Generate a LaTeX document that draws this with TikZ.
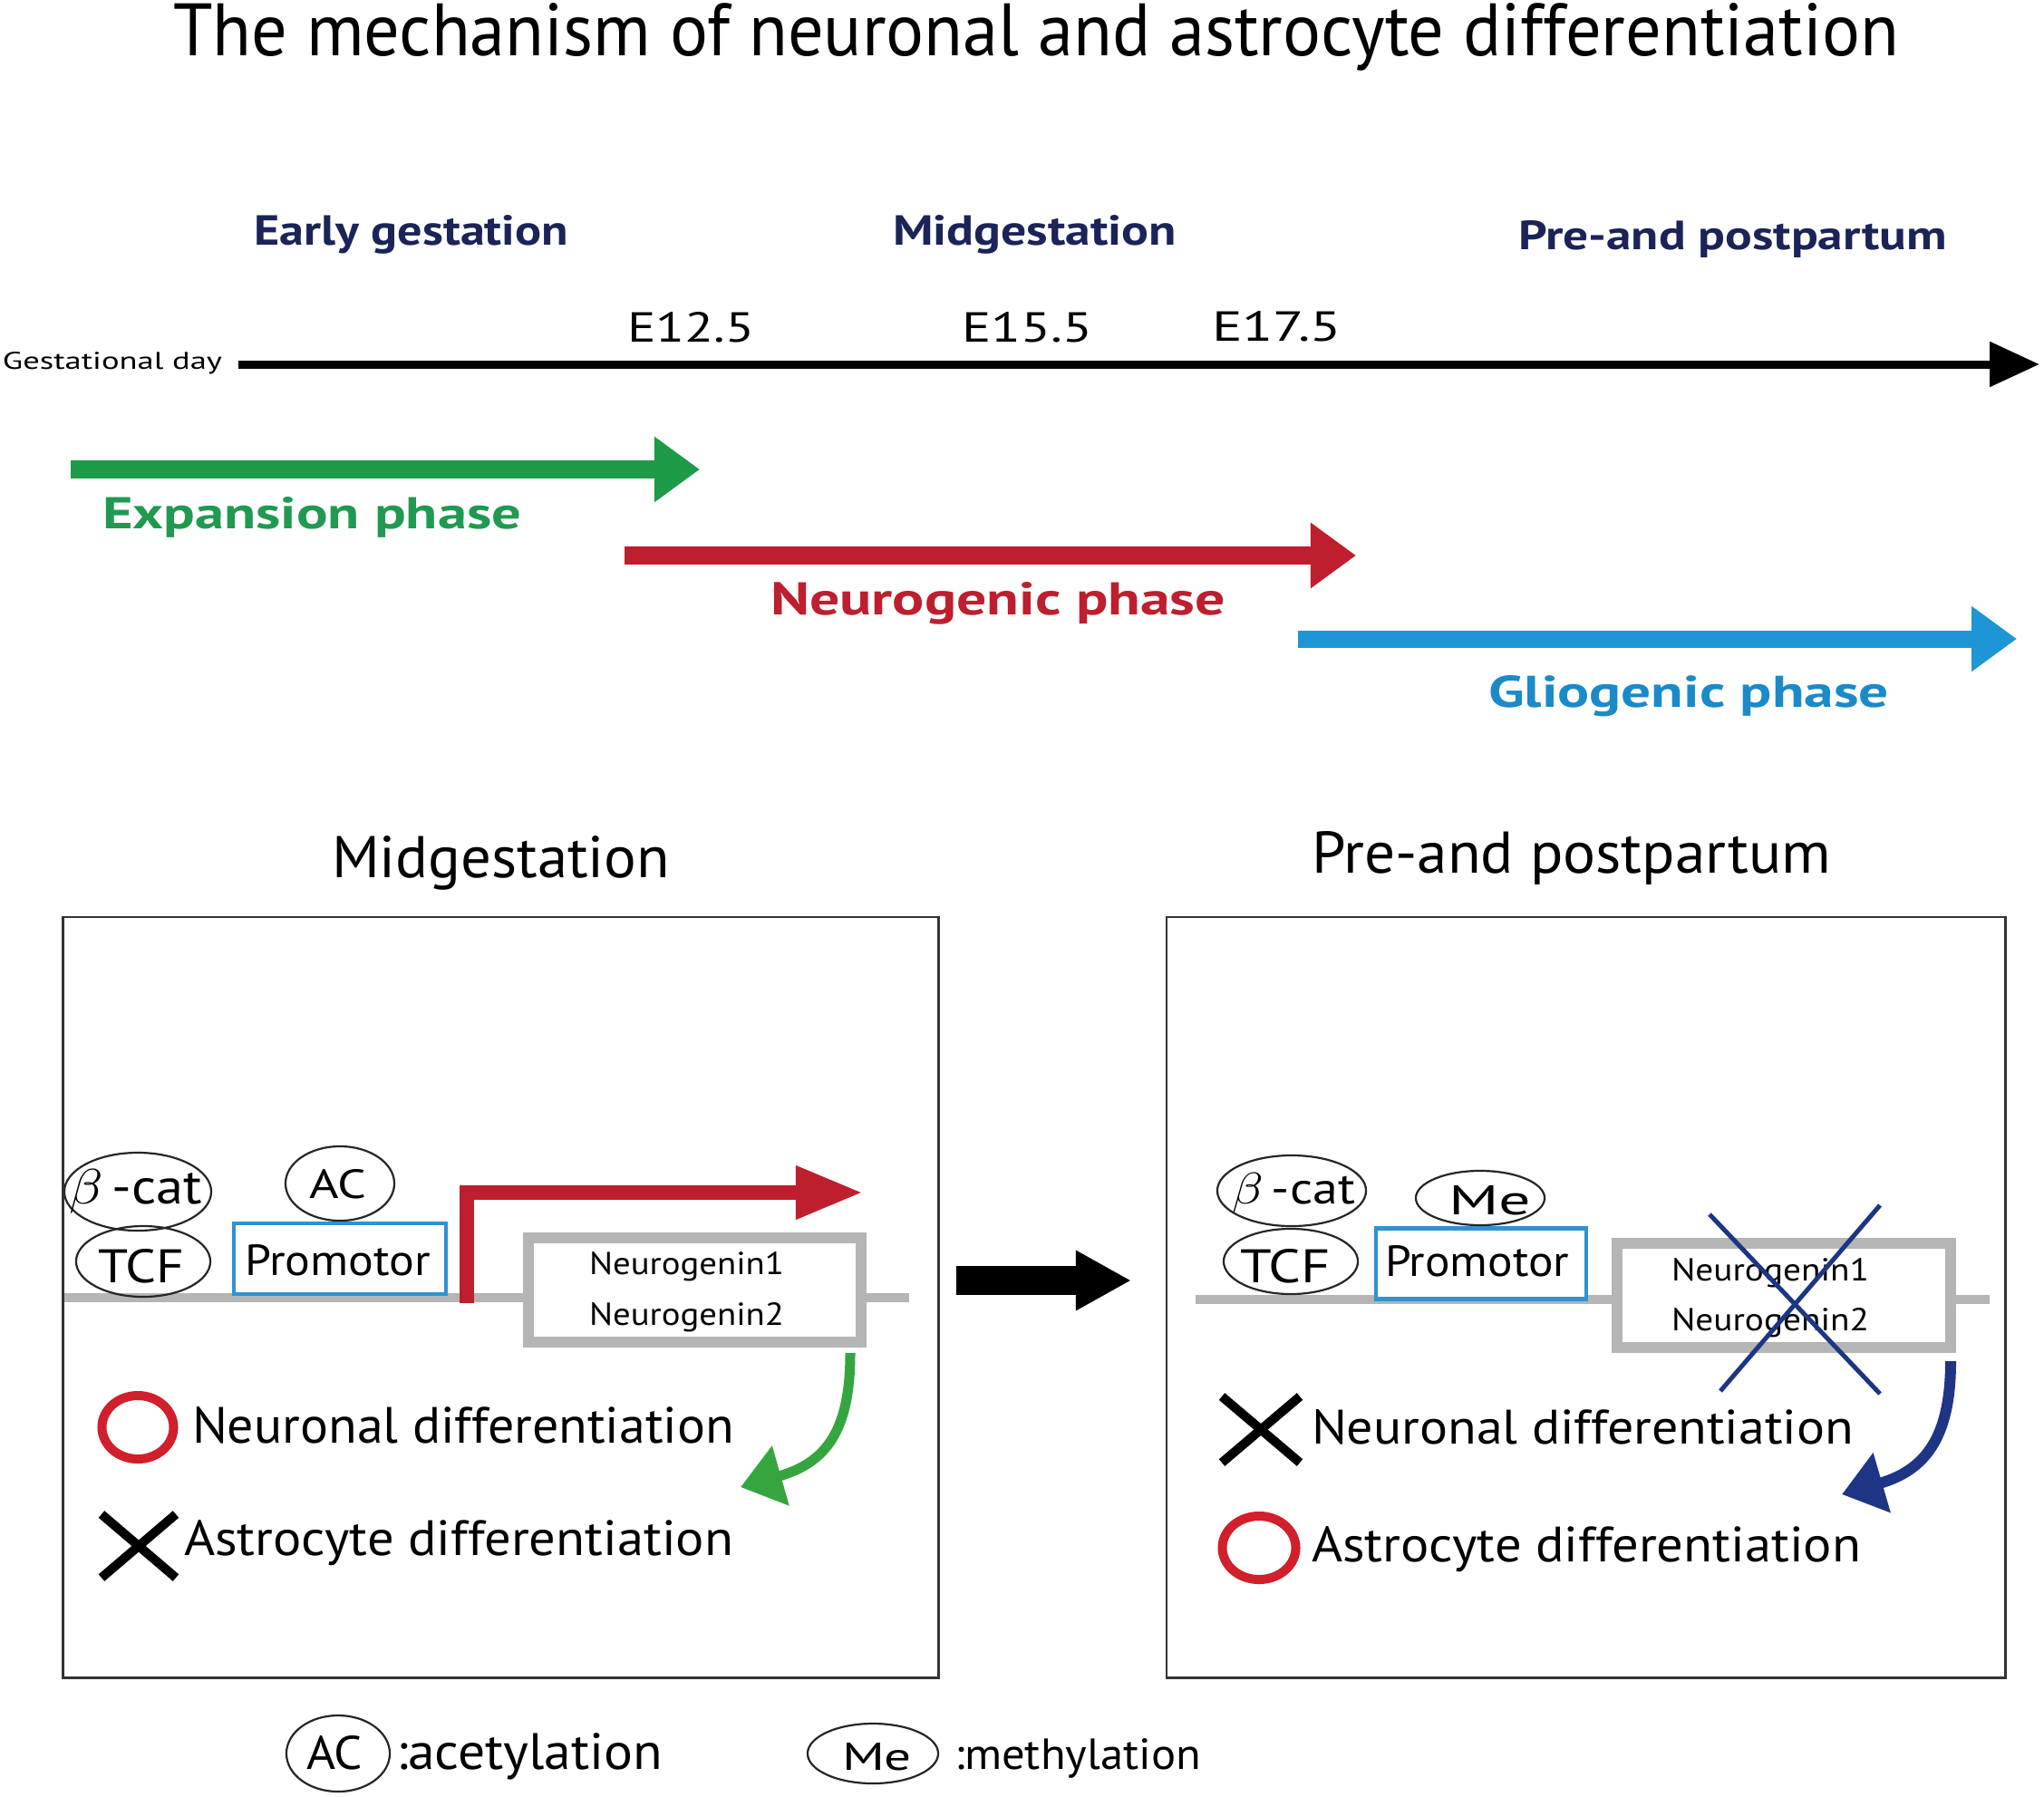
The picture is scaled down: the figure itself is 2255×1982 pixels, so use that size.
\documentclass[tikz,border=0pt]{standalone}
\usepackage{fontspec}
\setmainfont{PT Sans}
\usepackage{graphicx}
\usetikzlibrary{arrows.meta,shapes.geometric}
\newlength\pxu \setlength\pxu{0.01cm}
\newcommand\fitt[3]{\resizebox{#1\pxu}{#2\pxu}{#3}}
\definecolor{navyt}{HTML}{1B2358}
\definecolor{greenA}{HTML}{1E9B48}
\definecolor{greenT}{HTML}{1F9A50}
\definecolor{redA}{HTML}{BE1E2D}
\definecolor{blueA}{HTML}{1E96D6}
\definecolor{blueT}{HTML}{1A8AC8}
\definecolor{dnag}{HTML}{B5B5B5}
\definecolor{promb}{HTML}{2D93D2}
\definecolor{redO}{HTML}{D11F2B}
\definecolor{greenC}{HTML}{35A63F}
\definecolor{navyC}{HTML}{1E3585}
\begin{document}
\begin{tikzpicture}[x=0.01cm,y=-0.01cm,
  txt/.style={anchor=base west,inner sep=0pt,outer sep=0pt},
  ell/.style={draw=black!85,ellipse,line width=0.022cm,inner sep=0pt},
  panel/.style={draw=black!80,line width=0.025cm,inner sep=0pt},
  promo/.style={draw=promb,line width=0.045cm,fill=white,inner sep=0pt,minimum height=0.78cm},
  gene/.style={draw=dnag,line width=0.12cm,fill=white,inner sep=0pt,minimum width=3.67cm,minimum height=1.15cm},
  dna/.style={dnag,line width=0.10cm},
  yes/.style={draw=redO,line width=0.10cm},
  no/.style={line width=0.10cm,black}
]
\useasboundingbox (0,0) rectangle (2255,1982);
\fill[white] (0,0) rectangle (2255,1982);

% ---------- title ----------
\node[txt] (title) at (191,62) {\fitt{1904}{58}{The mechanism of neuronal and astrocyte differentiation}};

% ---------- period headings ----------
\node[txt,text=navyt] (hEarly) at (280,271) {\fitt{347}{33}{\bfseries Early gestation}};
\node[txt,text=navyt] (hMid) at (985,271) {\fitt{313}{33}{\bfseries Midgestation}};
\node[txt,text=navyt] (hPre) at (1675,275) {\fitt{473}{32}{\bfseries Pre-and postpartum}};

% ---------- timeline ----------
\node[txt] (gday) at (3,407) {\fitt{242}{19}{Gestational day}};
\node[txt] (e125) at (692,377) {\fitt{140}{33}{E12.5}};
\node[txt] (e155) at (1061,377) {\fitt{144}{33}{E15.5}};
\node[txt] (e175) at (1337,376) {\fitt{143}{33}{E17.5}};
\coordinate (tlA) at (263,402);
\coordinate (tlB) at (2250,402);
\draw[line width=0.09cm,-{Triangle[length=0.55cm,width=0.48cm]}] (tlA) -- (tlB);

% ---------- phases ----------
\coordinate (exA) at (78,518);   \coordinate (exB) at (772,518);
\coordinate (neA) at (689,613);  \coordinate (neB) at (1496,613);
\coordinate (glA) at (1432,705); \coordinate (glB) at (2225,705);
\draw[greenA,line width=0.20cm,-{Triangle[length=0.50cm,width=0.69cm]}] (exA) -- (exB);
\draw[redA,line width=0.20cm,-{Triangle[length=0.50cm,width=0.69cm]}] (neA) -- (neB);
\draw[blueA,line width=0.19cm,-{Triangle[length=0.50cm,width=0.69cm]}] (glA) -- (glB);
\node[txt,text=greenT] (lExp) at (113,583) {\fitt{462}{35}{\bfseries Expansion phase}};
\node[txt,text=redA] (lNeu) at (850,678) {\fitt{502}{36}{\bfseries Neurogenic phase}};
\node[txt,text=blueT] (lGli) at (1642,780) {\fitt{442}{35}{\bfseries Gliogenic phase}};

% ---------- panel headings ----------
\node[txt] (pMid) at (366,968) {\fitt{373}{46}{Midgestation}};
\node[txt] (pPre) at (1447,963) {\fitt{573}{46}{Pre-and postpartum}};

% ---------- panels ----------
\node[panel,minimum width=9.65cm,minimum height=8.39cm] (lp) at (552.5,1431.5) {};
\node[panel,minimum width=9.25cm,minimum height=8.39cm] (rp) at (1749.5,1431.5) {};

% ---------- left panel ----------
\coordinate (dnaLA) at (71,1432); \coordinate (dnaLB) at (1003,1432);
\draw[dna] (dnaLA) -- (dnaLB);
\node[promo,minimum width=2.34cm] (promL) at (375,1389) {};
\node[txt] (promLt) at (270,1407) {\fitt{205}{34}{Promotor}};
\coordinate (rbA) at (515,1438);
\coordinate (rbB) at (952,1316);
\draw[redA,line width=0.16cm,miter limit=10,-{Triangle[length=0.74cm,width=0.55cm]}] (rbA) |- (rbB);
\node[gene] (geneL) at (766.5,1423.5) {};
\node[txt] (ngL1) at (650,1406) {\fitt{215}{25}{Neurogenin1}};
\node[txt] (ngL2) at (650,1462) {\fitt{215}{25}{Neurogenin2}};
\node[ell,minimum width=1.62cm,minimum height=0.86cm] (bcatL) at (152,1315) {};
\node[ell,minimum width=1.48cm,minimum height=0.78cm] (tcfL) at (158,1392) {};
\node[ell,minimum width=1.20cm,minimum height=0.82cm] (acL) at (375,1306) {};
\node[txt] (bcatLt) at (76,1328) {\fitt{147}{38}{$\beta$\,-cat}};
\node[txt] (tcfLt) at (108,1415) {\fitt{95}{37}{TCF}};
\node[txt] (acLt) at (341,1322) {\fitt{63}{32}{AC}};
\node[ellipse,yes,minimum width=0.79cm,minimum height=0.70cm,inner sep=0pt] (okL) at (152,1575) {};
\node[txt] (neuL) at (212,1592) {\fitt{598}{40}{Neuronal differentiation}};
\coordinate (xL1) at (112,1671); \coordinate (xL2) at (194,1741);
\coordinate (xL3) at (194,1671); \coordinate (xL4) at (112,1741);
\draw[no] (xL1) -- (xL2); \draw[no] (xL3) -- (xL4);
\node[txt] (astL) at (203,1716) {\fitt{606}{39}{Astrocyte differentiation}};
\coordinate (gcA) at (938,1493); \coordinate (gcB) at (817,1641);
\draw[greenC,line width=0.11cm,-{Triangle[length=0.46cm,width=0.66cm]}] (gcA) .. controls (938,1578) and (912,1614) .. (gcB);

% ---------- big arrow ----------
\coordinate (baA) at (1055,1413); \coordinate (baB) at (1248,1413);
\draw[line width=0.32cm,-{Triangle[length=0.61cm,width=0.62cm]}] (baA) -- (baB);

% ---------- right panel ----------
\coordinate (dnaRA) at (1319,1434); \coordinate (dnaRB) at (2195,1434);
\draw[dna] (dnaRA) -- (dnaRB);
\node[promo,minimum width=2.32cm] (promR) at (1634,1394.5) {};
\node[txt] (promRt) at (1528,1408) {\fitt{203}{34}{Promotor}};
\node[gene] (geneR) at (1968,1429.5) {};
\node[txt] (ngR1) at (1844,1413) {\fitt{218}{25}{Neurogenin1}};
\node[txt] (ngR2) at (1844,1468) {\fitt{218}{25}{Neurogenin2}};
\node[ell,minimum width=1.64cm,minimum height=0.78cm] (bcatR) at (1425,1314) {};
\node[ell,minimum width=1.48cm,minimum height=0.72cm] (tcfR) at (1424,1392) {};
\node[ell,minimum width=1.42cm,minimum height=0.60cm] (meR) at (1633,1322) {};
\node[txt] (bcatRt) at (1359,1328) {\fitt{136}{34}{$\beta$\,-cat}};
\node[txt] (tcfRt) at (1368,1415) {\fitt{100}{37}{TCF}};
\node[txt] (meRt) at (1598,1340) {\fitt{91}{32}{Me}};
\coordinate (nx1) at (1886,1340); \coordinate (nx2) at (2074,1538);
\coordinate (nx3) at (2074,1330); \coordinate (nx4) at (1898,1535);
\draw[navyC,line width=0.05cm] (nx1) -- (nx2);
\draw[navyC,line width=0.05cm] (nx3) -- (nx4);
\coordinate (xR1) at (1348,1541); \coordinate (xR2) at (1434,1614);
\coordinate (xR3) at (1434,1541); \coordinate (xR4) at (1348,1614);
\draw[no] (xR1) -- (xR2); \draw[no] (xR3) -- (xR4);
\node[txt] (neuR) at (1447,1593) {\fitt{598}{38}{Neuronal differentiation}};
\node[ellipse,yes,minimum width=0.81cm,minimum height=0.70cm,inner sep=0pt] (okR) at (1389,1708) {};
\node[txt] (astR) at (1447,1723) {\fitt{606}{39}{Astrocyte differentiation}};
\coordinate (ncA) at (2152,1502); \coordinate (ncB) at (2032,1649);
\draw[navyC,line width=0.12cm,-{Triangle[length=0.46cm,width=0.66cm]}] (ncA) .. controls (2152,1585) and (2125,1622) .. (ncB);

% ---------- legend ----------
\node[ell,minimum width=1.14cm,minimum height=0.84cm] (acLeg) at (373,1935) {};
\node[txt] (acLegt) at (338,1952) {\fitt{62}{37}{AC}};
\node[txt] (acetyl) at (437,1952) {\fitt{294}{40}{:acetylation}};
\node[ell,minimum width=1.44cm,minimum height=0.66cm] (meLeg) at (963,1935) {};
\node[txt] (meLegt) at (929,1953) {\fitt{77}{30}{Me}};
\node[txt] (methyl) at (1053,1952) {\fitt{272}{34}{:methylation}};
\end{tikzpicture}
\end{document}
